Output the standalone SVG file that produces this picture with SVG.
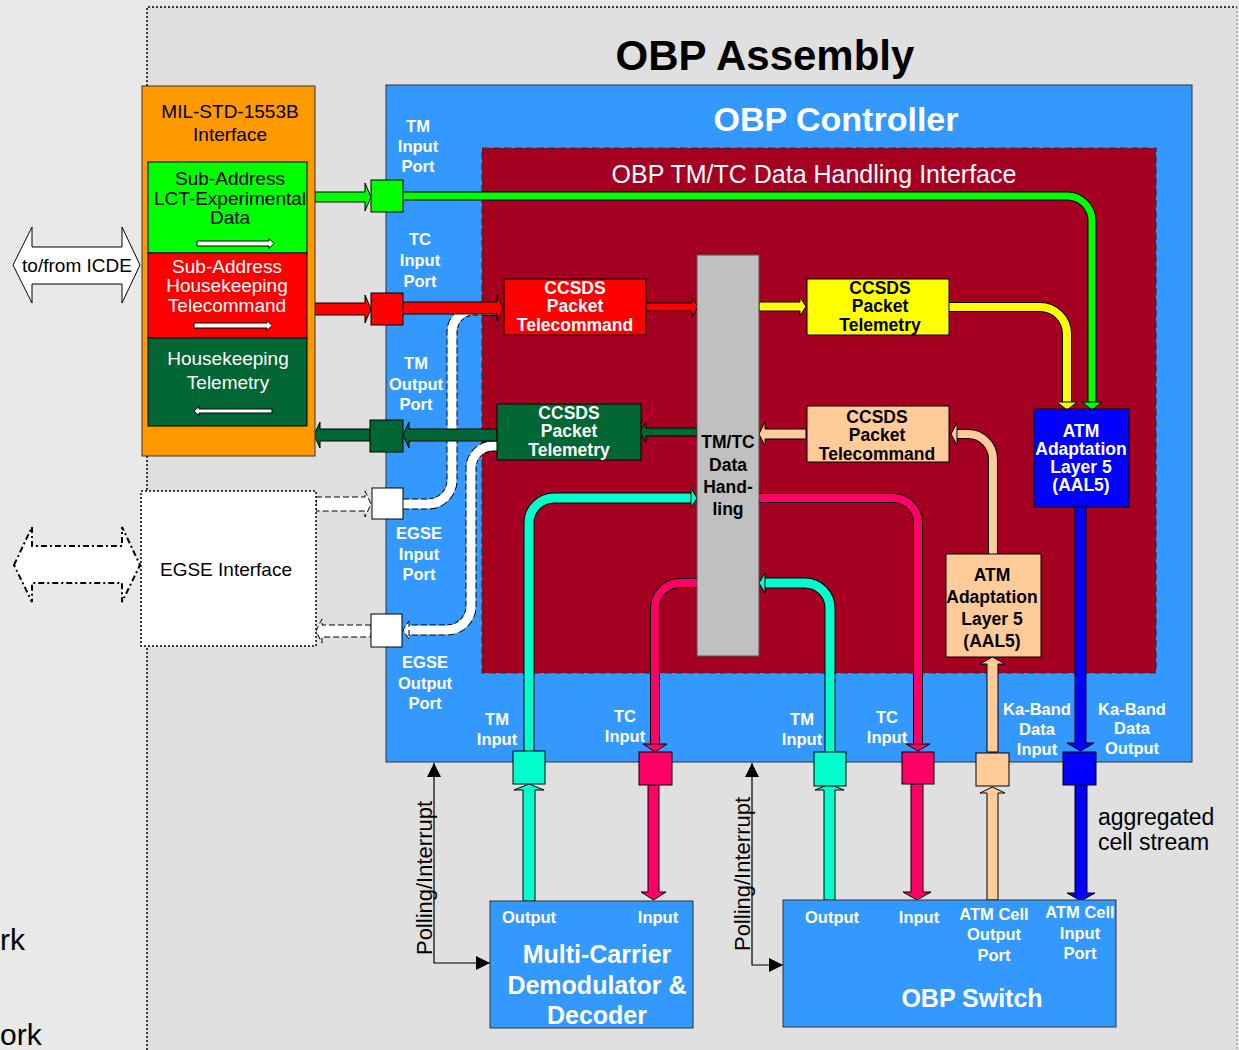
<svg xmlns="http://www.w3.org/2000/svg" width="1239" height="1050" viewBox="0 0 1239 1050">
  <style>
    text { font-family: "Liberation Sans", Arial, Helvetica, sans-serif; }
    .b { font-weight: bold; }
    .mid { text-anchor: middle; }
    .wt { fill: #ffffff; }
    .pl { font-size: 16.5px; font-weight: bold; fill: #ffffff; text-anchor: middle; }
    .box { stroke: #000000; stroke-width: 1; }
    .arr { stroke: #000000; stroke-width: 1; stroke-linejoin: miter; }
    .edge { fill: none; stroke: #000000; }
    .dash { fill: none; stroke: #000000; stroke-dasharray: 6 3; }
    .wdash { fill: #ffffff; stroke: #000000; stroke-width: 1; stroke-dasharray: 6 3; }
    .inbox { font-size: 17.5px; font-weight: bold; text-anchor: middle; }
  </style>
  <defs>
    <marker id="tri" viewBox="0 0 14 14" refX="14" refY="7" markerWidth="14" markerHeight="14" markerUnits="userSpaceOnUse" orient="auto-start-reverse">
      <path d="M0,0 L14,7 L0,14 z" fill="#000000"/>
    </marker>
    <path id="p-green" d="M403,196 H1067 A25,25 0 0 1 1092,221 V403"/>
    <path id="p-yellow" d="M949,307 H1040 A27,27 0 0 1 1067,334 V403"/>
    <path id="p-peach" d="M993,555 V459 A25,25 0 0 0 968,434 H957"/>
    <path id="p-teal1" d="M529,751 V523 A25,25 0 0 1 554,498 H691"/>
    <path id="p-teal2" d="M830,751 V608 A25,25 0 0 0 805,583 H765"/>
    <path id="p-pink1" d="M697,583 H680 A25,25 0 0 0 655,608 V744"/>
    <path id="p-pink2" d="M759,498 H893 A25,25 0 0 1 918,523 V744"/>
    <path id="p-egse-in" d="M403,504 H428 A24,24 0 0 0 452,480 V332 A22,22 0 0 1 474,310 H500"/>
    <path id="p-egse-out" d="M497,446 H493 A22,22 0 0 0 471,468 V606 A24,24 0 0 1 447,630 H409"/>
  </defs>

  <!-- page and assembly frame -->
  <rect x="0" y="0" width="1239" height="1050" fill="#e9e9e9"/>
  <rect x="147" y="7" width="1090" height="1050" fill="#e0e0e0"/>
  <path d="M147,1050 V7 H1237" fill="none" stroke="#000000" stroke-width="1.5" stroke-dasharray="2 2"/>
  <path d="M1237,7 V1050" fill="none" stroke="#888888" stroke-width="1" stroke-dasharray="2 2"/>
  <text x="765" y="70" class="b mid" font-size="42" fill="#000000">OBP Assembly</text>
  <text x="0" y="950" font-size="30" fill="#000000">rk</text>
  <text x="0" y="1045" font-size="30" fill="#000000">ork</text>

  <!-- OBP controller -->
  <g id="obp-controller">
    <rect x="386" y="85" width="806" height="677" fill="#3399ff" stroke="#333333" stroke-width="1"/>
    <text x="836" y="131" class="b mid wt" font-size="34">OBP Controller</text>
    <text class="pl"><tspan x="418" y="132">TM</tspan><tspan x="418" y="152">Input</tspan><tspan x="418" y="172">Port</tspan></text>
    <text class="pl"><tspan x="420" y="245">TC</tspan><tspan x="420" y="266">Input</tspan><tspan x="420" y="287">Port</tspan></text>
    <text class="pl"><tspan x="416" y="369">TM</tspan><tspan x="416" y="390">Output</tspan><tspan x="416" y="410">Port</tspan></text>
    <text class="pl"><tspan x="419" y="539">EGSE</tspan><tspan x="419" y="560">Input</tspan><tspan x="419" y="580">Port</tspan></text>
    <text class="pl"><tspan x="425" y="668">EGSE</tspan><tspan x="425" y="689">Output</tspan><tspan x="425" y="709">Port</tspan></text>
    <text class="pl"><tspan x="497" y="725">TM</tspan><tspan x="497" y="745">Input</tspan></text>
    <text class="pl"><tspan x="625" y="722">TC</tspan><tspan x="625" y="742">Input</tspan></text>
    <text class="pl"><tspan x="802" y="725">TM</tspan><tspan x="802" y="745">Input</tspan></text>
    <text class="pl"><tspan x="887" y="723">TC</tspan><tspan x="887" y="743">Input</tspan></text>
    <text class="pl"><tspan x="1037" y="715">Ka-Band</tspan><tspan x="1037" y="735">Data</tspan><tspan x="1037" y="755">Input</tspan></text>
    <text class="pl"><tspan x="1132" y="715">Ka-Band</tspan><tspan x="1132" y="734">Data</tspan><tspan x="1132" y="754">Output</tspan></text>
  </g>

  <!-- TM/TC data handling interface -->
  <g id="data-handling-interface">
    <rect x="482" y="148" width="674" height="525" fill="#a50021" stroke="#333333" stroke-width="1.2" stroke-dasharray="7 4"/>
    <text x="814" y="183" class="mid wt" font-size="25">OBP TM/TC Data Handling Interface</text>
  </g>

  <!-- connectors -->
  <g id="connectors">
    <!-- EGSE routes (white, dashed outline) -->
    <use href="#p-egse-in" class="dash" stroke-width="11"/>
    <use href="#p-egse-in" fill="none" stroke="#ffffff" stroke-width="9"/>
    <use href="#p-egse-out" class="dash" stroke-width="11"/>
    <use href="#p-egse-out" fill="none" stroke="#ffffff" stroke-width="9"/>
    <polygon class="wdash" points="409,621 409,639 403,630"/>
    <polygon class="wdash" points="316,497 365,497 365,491 371,504 365,517 365,511 316,511"/>
    <polygon class="wdash" points="371,625 322,625 322,619 316,631 322,643 322,637 371,637"/>

    <!-- MIL-STD-1553B links -->
    <polygon class="arr" fill="#00ff00" points="315,192 365,192 365,183 371,197 365,211 365,202 315,202"/>
    <polygon class="arr" fill="#ff0000" points="315,303 365,303 365,295 371,309 365,323 365,315 315,315"/>
    <polygon class="arr" fill="#006633" points="370,429 320,429 320,422 314,435 320,448 320,441 370,441"/>

    <!-- telemetry / telecommand paths inside the controller -->
    <polygon class="arr" fill="#ff0000" points="403,302 497,302 497,295 503,308 497,321 497,314 403,314"/>
    <polygon class="arr" fill="#ff0000" points="646,303 692,303 692,297 698,307 692,317 692,311 646,311"/>
    <polygon class="arr" fill="#ffff00" points="759,302 800,302 800,297 806,306.5 800,316 800,311 759,311"/>
    <polygon class="arr" fill="#006633" points="697,428 646,428 646,422 640,432 646,443 646,436 697,436"/>
    <polygon class="arr" fill="#006633" points="497,429 409,429 409,422 403,435 409,448 409,441 497,441"/>
    <polygon class="arr" fill="#ffcc99" points="806,429 765,429 765,422 759,434 765,446 765,439 806,439"/>

    <use href="#p-green" class="edge" stroke-width="9"/>
    <use href="#p-green" fill="none" stroke="#00ff00" stroke-width="7"/>
    <polygon class="arr" fill="#00ff00" points="1082,402 1102,402 1092,410"/>
    <use href="#p-yellow" class="edge" stroke-width="10"/>
    <use href="#p-yellow" fill="none" stroke="#ffff00" stroke-width="8"/>
    <polygon class="arr" fill="#ffff00" points="1057,402 1077,402 1067,410"/>
    <use href="#p-peach" class="edge" stroke-width="10"/>
    <use href="#p-peach" fill="none" stroke="#ffcc99" stroke-width="8"/>
    <polygon class="arr" fill="#ffcc99" points="957,423 957,445 951,434"/>
    <use href="#p-teal1" class="edge" stroke-width="11"/>
    <use href="#p-teal1" fill="none" stroke="#00ffcc" stroke-width="9"/>
    <polygon class="arr" fill="#00ffcc" points="691,488 691,508 697,498"/>
    <use href="#p-teal2" class="edge" stroke-width="11"/>
    <use href="#p-teal2" fill="none" stroke="#00ffcc" stroke-width="9"/>
    <polygon class="arr" fill="#00ffcc" points="765,573 765,593 759,583"/>
    <use href="#p-pink1" class="edge" stroke-width="10"/>
    <use href="#p-pink1" fill="none" stroke="#ff0066" stroke-width="8"/>
    <polygon class="arr" fill="#ff0066" points="643,744 667,744 655,752"/>
    <use href="#p-pink2" class="edge" stroke-width="10"/>
    <use href="#p-pink2" fill="none" stroke="#ff0066" stroke-width="8"/>
    <polygon class="arr" fill="#ff0066" points="906,744 930,744 918,751"/>

    <polygon class="arr" fill="#ffcc99" points="987,752 987,664 980,664 992.5,657 1005,664 998,664 998,752"/>
    <polygon class="arr" fill="#0000ff" points="1075,507 1075,743 1067,743 1080.5,751 1094,743 1086,743 1086,507"/>

    <!-- links to demodulator and switch -->
    <polygon class="arr" fill="#00ffcc" points="523,901 523,790 514,790 529,784 544,790 535,790 535,901"/>
    <polygon class="arr" fill="#ff0066" points="648,785 648,892 641,892 653.5,900 666,892 659,892 659,785"/>
    <polygon class="arr" fill="#00ffcc" points="824,900 824,790 815,790 829.5,784 844,790 835,790 835,900"/>
    <polygon class="arr" fill="#ff0066" points="911,784 911,892 903,892 917,900 931,892 923,892 923,784"/>
    <polygon class="arr" fill="#ffcc99" points="987,900 987,793 980,793 992.5,787 1005,793 998,793 998,900"/>
    <polygon class="arr" fill="#0000ff" points="1075,785 1075,893 1067,893 1081,901 1095,893 1087,893 1087,785"/>

    <!-- polling / interrupt lines -->
    <path d="M434,763 V963 H490" fill="none" stroke="#000000" stroke-width="1.2" marker-start="url(#tri)" marker-end="url(#tri)"/>
    <path d="M752,763 V965 H783" fill="none" stroke="#000000" stroke-width="1.2" marker-start="url(#tri)" marker-end="url(#tri)"/>
    <text transform="translate(432,878) rotate(-90)" class="mid" font-size="22" fill="#000000">Polling/Interrupt</text>
    <text transform="translate(750,874) rotate(-90)" class="mid" font-size="22" fill="#000000">Polling/Interrupt</text>
    <text font-size="23" fill="#000000"><tspan x="1098" y="825">aggregated</tspan><tspan x="1098" y="850">cell stream</tspan></text>
  </g>

  <!-- external interfaces -->
  <g id="icde-link">
    <polygon points="13,265 32,227 32,247 122,247 122,227 140,265 122,303 122,284 32,284 32,303" fill="#ffffff" stroke="#000000" stroke-width="1"/>
    <text x="77" y="272" class="mid" font-size="19" fill="#000000">to/from ICDE</text>
  </g>
  <g id="egse-link">
    <polygon points="14,565 32,527 32,546 122,546 122,527 140,565 122,602 122,583 32,583 32,602" fill="#ffffff" stroke="#000000" stroke-width="2" stroke-dasharray="6 3 2 3"/>
  </g>

  <g id="mil-std-1553b">
    <rect x="142" y="86" width="173" height="370" fill="#ff9900" stroke="#333333" stroke-width="1"/>
    <text class="mid" font-size="19" fill="#000000"><tspan x="230" y="118">MIL-STD-1553B</tspan><tspan x="230" y="141">Interface</tspan></text>
    <rect x="148" y="162" width="159" height="91" fill="#00ff00" class="box"/>
    <text class="mid" font-size="19" fill="#000000"><tspan x="230" y="185">Sub-Address</tspan><tspan x="230" y="205">LCT-Experimental</tspan><tspan x="230" y="224">Data</tspan></text>
    <polygon class="arr" fill="#ffffff" points="197,241 269,241 269,238.5 274,243.5 269,248.5 269,246 197,246"/>
    <rect x="148" y="253" width="159" height="85" fill="#ff0000" class="box"/>
    <text class="mid wt" font-size="19"><tspan x="227" y="273">Sub-Address</tspan><tspan x="227" y="292">Housekeeping</tspan><tspan x="227" y="312">Telecommand</tspan></text>
    <polygon class="arr" fill="#ffffff" points="194,323 267,323 267,320.5 272,325.5 267,330.5 267,328 194,328"/>
    <rect x="148" y="338" width="159" height="88" fill="#006633" class="box"/>
    <text class="mid wt" font-size="19"><tspan x="228" y="365">Housekeeping</tspan><tspan x="228" y="389">Telemetry</tspan></text>
    <polygon class="arr" fill="#ffffff" points="272,409 199,409 199,406.5 194,411 199,415.5 199,413 272,413"/>
  </g>

  <g id="egse-interface">
    <rect x="141" y="491" width="175" height="155" fill="#ffffff" stroke="#000000" stroke-width="1.5" stroke-dasharray="2 2"/>
    <text x="226" y="576" class="mid" font-size="19" fill="#000000">EGSE Interface</text>
  </g>

  <!-- controller ports -->
  <g id="port-tm-input"><rect x="371" y="180" width="32" height="32" fill="#00ff00" class="box"/></g>
  <g id="port-tc-input"><rect x="371" y="293" width="32" height="32" fill="#ff0000" class="box"/></g>
  <g id="port-tm-output"><rect x="370" y="420" width="33" height="32" fill="#006633" class="box"/></g>
  <g id="port-egse-input"><rect x="372" y="488" width="31" height="31" fill="#ffffff" class="box"/></g>
  <g id="port-egse-output"><rect x="371" y="614" width="31" height="33" fill="#ffffff" class="box"/></g>
  <g id="port-mcdd-tm-input"><rect x="513" y="751" width="32" height="33" fill="#00ffcc" class="box"/></g>
  <g id="port-mcdd-tc-input"><rect x="639" y="752" width="33" height="33" fill="#ff0066" class="box"/></g>
  <g id="port-switch-tm-input"><rect x="814" y="752" width="32" height="34" fill="#00ffcc" class="box"/></g>
  <g id="port-switch-tc-input"><rect x="902" y="752" width="32" height="32" fill="#ff0066" class="box"/></g>
  <g id="port-ka-data-input"><rect x="976" y="753" width="33" height="33" fill="#ffcc99" class="box"/></g>
  <g id="port-ka-data-output"><rect x="1063" y="752" width="33" height="33" fill="#0000ff" class="box"/></g>

  <!-- processing blocks -->
  <g id="ccsds-tc-in">
    <rect x="504" y="279" width="142" height="56" fill="#ff0000" class="box"/>
    <text class="inbox wt"><tspan x="575" y="294">CCSDS</tspan><tspan x="575" y="312">Packet</tspan><tspan x="575" y="331">Telecommand</tspan></text>
  </g>
  <g id="tmtc-data-handling">
    <rect x="697" y="255" width="62" height="401" fill="#c0c0c0" stroke="#555555" stroke-width="1"/>
    <text class="inbox" fill="#000000"><tspan x="728" y="448">TM/TC</tspan><tspan x="728" y="471">Data</tspan><tspan x="728" y="493">Hand-</tspan><tspan x="728" y="515">ling</tspan></text>
  </g>
  <g id="ccsds-tm-out">
    <rect x="807" y="279" width="142" height="56" fill="#ffff00" class="box"/>
    <text class="inbox" fill="#000000"><tspan x="880" y="294">CCSDS</tspan><tspan x="880" y="312">Packet</tspan><tspan x="880" y="331">Telemetry</tspan></text>
  </g>
  <g id="ccsds-tm-hk">
    <rect x="497" y="404" width="144" height="56" fill="#006633" class="box"/>
    <text class="inbox wt"><tspan x="569" y="419">CCSDS</tspan><tspan x="569" y="437">Packet</tspan><tspan x="569" y="456">Telemetry</tspan></text>
  </g>
  <g id="ccsds-tc-ka">
    <rect x="807" y="406" width="142" height="56" fill="#ffcc99" class="box"/>
    <text class="inbox" fill="#000000"><tspan x="877" y="423">CCSDS</tspan><tspan x="877" y="441">Packet</tspan><tspan x="877" y="460">Telecommand</tspan></text>
  </g>
  <g id="aal5-out">
    <rect x="1034" y="409" width="95" height="98" fill="#0000ff" class="box"/>
    <text class="inbox wt"><tspan x="1081" y="437">ATM</tspan><tspan x="1081" y="455">Adaptation</tspan><tspan x="1081" y="473">Layer 5</tspan><tspan x="1081" y="491">(AAL5)</tspan></text>
  </g>
  <g id="aal5-in">
    <rect x="946" y="554" width="95" height="103" fill="#ffcc99" class="box"/>
    <text class="inbox" fill="#000000"><tspan x="992" y="581">ATM</tspan><tspan x="992" y="603">Adaptation</tspan><tspan x="992" y="625">Layer 5</tspan><tspan x="992" y="647">(AAL5)</tspan></text>
  </g>

  <!-- payload units -->
  <g id="mcdd">
    <rect x="490" y="901" width="203" height="127" fill="#3399ff" stroke="#333333" stroke-width="1"/>
    <text x="529" y="923" class="pl">Output</text>
    <text x="658" y="923" class="pl">Input</text>
    <text class="b mid wt" font-size="25"><tspan x="597" y="963">Multi-Carrier</tspan><tspan x="597" y="994">Demodulator &amp;</tspan><tspan x="597" y="1024">Decoder</tspan></text>
  </g>
  <g id="obp-switch">
    <rect x="783" y="900" width="333" height="127" fill="#3399ff" stroke="#333333" stroke-width="1"/>
    <text x="832" y="923" class="pl">Output</text>
    <text x="919" y="923" class="pl">Input</text>
    <text class="pl"><tspan x="994" y="920">ATM Cell</tspan><tspan x="994" y="940">Output</tspan><tspan x="994" y="961">Port</tspan></text>
    <text class="pl"><tspan x="1080" y="918">ATM Cell</tspan><tspan x="1080" y="939">Input</tspan><tspan x="1080" y="959">Port</tspan></text>
    <text x="972" y="1007" class="b mid wt" font-size="25">OBP Switch</text>
  </g>
</svg>
